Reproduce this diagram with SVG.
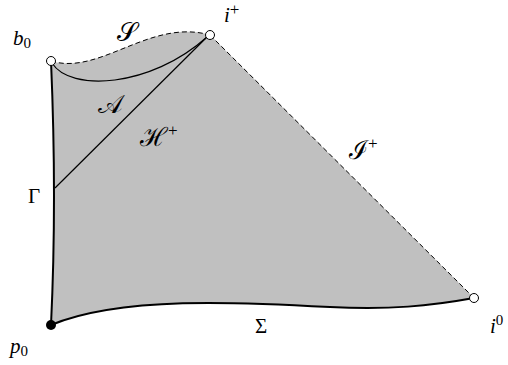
<svg xmlns="http://www.w3.org/2000/svg" width="508" height="365" viewBox="0 0 508 365">
<style>
.lbl{font-family:"Liberation Serif","DejaVu Serif",serif;font-size:21px;fill:#000}
.it{font-style:italic}
.sub{font-size:15px;font-style:normal}
.sup{font-size:17px;font-style:normal}
.cal{font-family:"DejaVu Serif","Liberation Serif",serif;font-size:26px;fill:#000}
.calsub{font-family:"Liberation Serif",serif;font-size:17px}
.pt{fill:#fff;stroke:#000;stroke-width:1}
</style>
<rect width="508" height="365" fill="#fff"/>
<g id="region">
<path d="M51,61 C100,76 150,18 210,35 L474,298 C430,306 390,310 330,307 C240,302 120,296 51,325 Q57,200 51,61 Z" fill="#c0c0c0" stroke="none"/>
</g>
<g id="connectors" fill="none" stroke="#000">
<path id="S" d="M51,61 C100,76 150,18 210,35" stroke-width="1" stroke-dasharray="5,3"/>
<path id="Iplus" d="M210,35 L474,298" stroke-width="1" stroke-dasharray="5,3"/>
<path id="A" d="M52,63 C70,92 150,88 207,37" stroke-width="1.2"/>
<path id="Hplus" d="M207,37 L55,188" stroke-width="1.2"/>
<path id="Gamma" d="M51,61 Q57,200 51,325" stroke-width="2"/>
<path id="Sigma" d="M51,325 C120,296 240,302 330,307 C390,310 430,306 474,298" stroke-width="2"/>
</g>
<g id="b0"><circle class="pt" cx="51" cy="61" r="4.5"/><text class="lbl it" x="13" y="45">b<tspan class="sub" dy="3">0</tspan></text></g>
<g id="iplus"><circle class="pt" cx="210" cy="35" r="4.5"/><text class="lbl it" x="224" y="22">i<tspan class="sup" dy="-7">+</tspan></text></g>
<g id="i0"><circle class="pt" cx="474" cy="298" r="4.5"/><text class="lbl it" x="490" y="333">i<tspan class="sub" dy="-8">0</tspan></text></g>
<g id="p0"><circle cx="51" cy="325" r="5" fill="#000"/><text class="lbl it" x="10" y="353">p<tspan class="sub" dy="3">0</tspan></text></g>
<g id="labels">
<text class="cal" x="117" y="41">𝒮</text>
<text class="cal" x="98" y="113">𝒜</text>
<text class="cal" x="140" y="146">ℋ<tspan class="calsub" dy="-10">+</tspan></text>
<text class="cal" x="349" y="159">ℐ<tspan class="calsub" dy="-10">+</tspan></text>
<text class="lbl" x="28" y="203">Γ</text>
<text class="lbl" x="255" y="333">Σ</text>
</g>
</svg>
